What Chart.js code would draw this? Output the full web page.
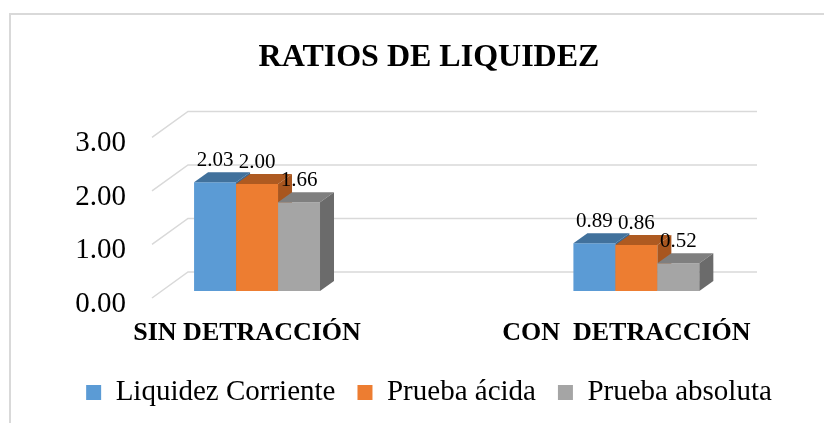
<!DOCTYPE html>
<html lang="es">
<head>
<meta charset="UTF-8">
<title>Ratios de liquidez</title>
<script src="https://cdn.jsdelivr.net/npm/chart.js"></script>
<style>
  html, body { margin: 0; padding: 0; background: #fff; overflow: hidden; }
</style>
</head>
<body>
<canvas id="Chart" width="824" height="423"></canvas>
<script>
// data
const categories = ['SIN DETRACCIÓN', 'CON  DETRACCIÓN'];
const seriesNames = ['Liquidez Corriente', 'Prueba ácida', 'Prueba absoluta'];
const liquidezCorriente = [2.03, 0.89];
const pruebaAcida = [2.00, 0.86];
const pruebaAbsoluta = [1.66, 0.52];
const yTicks = [0, 1, 2, 3];

const serif = "'Liberation Serif', 'Times New Roman', serif";
const frontColors = ['#5B9BD5', '#ED7D31', '#A5A5A5'];
const topColors = ['#41719C', '#AE5A21', '#7F7F7F'];
const sideColors = ['#3B6891', '#A8561F', '#6B6B6B'];
const dx = 14, dy = -10;   // bar depth

function quad(ctx, pts) {
    ctx.beginPath();
    ctx.moveTo(pts[0], pts[1]);
    for (let i = 2; i < pts.length; i += 2) ctx.lineTo(pts[i], pts[i + 1]);
    ctx.closePath();
    ctx.fill();
}

// fake excel 3d look: back wall grid, bar top/side faces, value labels
const bars3d = {
    id: 'bars3d',
    beforeDraw(chart) {
        const ctx = chart.ctx;
        ctx.save();
        ctx.strokeStyle = '#d9d9d9';
        ctx.lineWidth = 2;
        ctx.beginPath();
        ctx.moveTo(10, chart.height);
        ctx.lineTo(10, 14);
        ctx.lineTo(chart.width, 14);
        ctx.stroke();
        ctx.restore();
    },
    beforeDatasetsDraw(chart) {
        const {ctx, chartArea} = chart;
        const y = chart.scales.y;
        ctx.save();
        ctx.strokeStyle = '#d9d9d9';
        ctx.lineWidth = 1.5;
        yTicks.forEach(v => {
            const yb = y.getPixelForValue(v) - 19;
            ctx.beginPath();
            ctx.moveTo(chartArea.left - 36, yb + 26);
            ctx.lineTo(chartArea.left, yb);
            ctx.lineTo(chartArea.right, yb);
            ctx.stroke();
        });
        chart.data.datasets.forEach((ds, i) => {
            chart.getDatasetMeta(i).data.forEach(bar => {
                const l = bar.x - bar.width / 2, r = bar.x + bar.width / 2;
                bar.draw(ctx);
                ctx.fillStyle = topColors[i];
                quad(ctx, [l, bar.y, r, bar.y, r + dx, bar.y + dy, l + dx, bar.y + dy]);
                ctx.fillStyle = sideColors[i];
                quad(ctx, [r, bar.y, r + dx, bar.y + dy, r + dx, bar.base + dy, r, bar.base]);
            });
        });
        ctx.fillStyle = '#000';
        ctx.font = '21px ' + serif;
        ctx.textAlign = 'center';
        ctx.textBaseline = 'alphabetic';
        chart.data.datasets.forEach((ds, i) => {
            chart.getDatasetMeta(i).data.forEach((bar, j) => {
                ctx.fillText(ds.data[j].y.toFixed(2), bar.x, bar.y + dy - 6);
            });
        });
        ctx.restore();
        return false;
    }
};

const seriesValues = [liquidezCorriente, pruebaAcida, pruebaAbsoluta];
const datasets = seriesNames.map((name, i) => ({
    label: name,
    data: seriesValues[i].map((v, j) => ({x: j, y: v})),
    backgroundColor: frontColors[i],
    borderWidth: 0,
    categoryPercentage: 0.332,
    barPercentage: 1
}));

const chart = new Chart(document.getElementById('Chart'), {
    type: 'bar',
    data: {datasets: datasets},
    options: {
        responsive: false,
        animation: false,
        layout: {padding: {left: 34, right: 0, top: 0, bottom: 6}},
        plugins: {
            title: {
                display: true,
                text: 'RATIOS DE LIQUIDEZ',
                color: '#000',
                font: {family: serif, size: 32, weight: 'bold'},
                padding: {top: 39, bottom: 53}
            },
            legend: {
                position: 'bottom',
                labels: {
                    boxWidth: 15,
                    boxHeight: 15,
                    padding: 22,
                    color: '#000',
                    font: {family: serif, size: 29}
                }
            },
            tooltip: {enabled: false}
        },
        scales: {
            x: {
                type: 'linear',
                offset: false,
                min: -0.182,
                max: 1.318,
                grid: {display: false, drawTicks: false, offset: false},
                border: {display: false},
                afterBuildTicks: s => { s.ticks = categories.map((c, i) => ({value: i})); },
                afterFit: s => { s.height = 65; },
                ticks: {
                    callback: v => categories[v],
                    color: '#000',
                    font: {family: serif, size: 26, weight: 'bold'},
                    padding: 27,
                    labelOffset: -10,
                    maxRotation: 0,
                    autoSkip: false
                }
            },
            y: {
                min: 0,
                max: 3,
                grid: {display: false, drawTicks: false},
                border: {display: false},
                afterBuildTicks: s => { s.ticks = yTicks.map(v => ({value: v})); },
                afterFit: s => { s.width = 154; },
                ticks: {
                    callback: v => v.toFixed(2),
                    color: '#000',
                    font: {family: serif, size: 29},
                    padding: 62,
                    labelOffset: 13,
                    autoSkip: false
                }
            },
            yRight: {
                position: 'right',
                grid: {display: false, drawTicks: false},
                border: {display: false},
                ticks: {display: false},
                afterFit: s => { s.width = 67; }
            }
        }
    },
    plugins: [bars3d]
});
</script>
</body>
</html>
